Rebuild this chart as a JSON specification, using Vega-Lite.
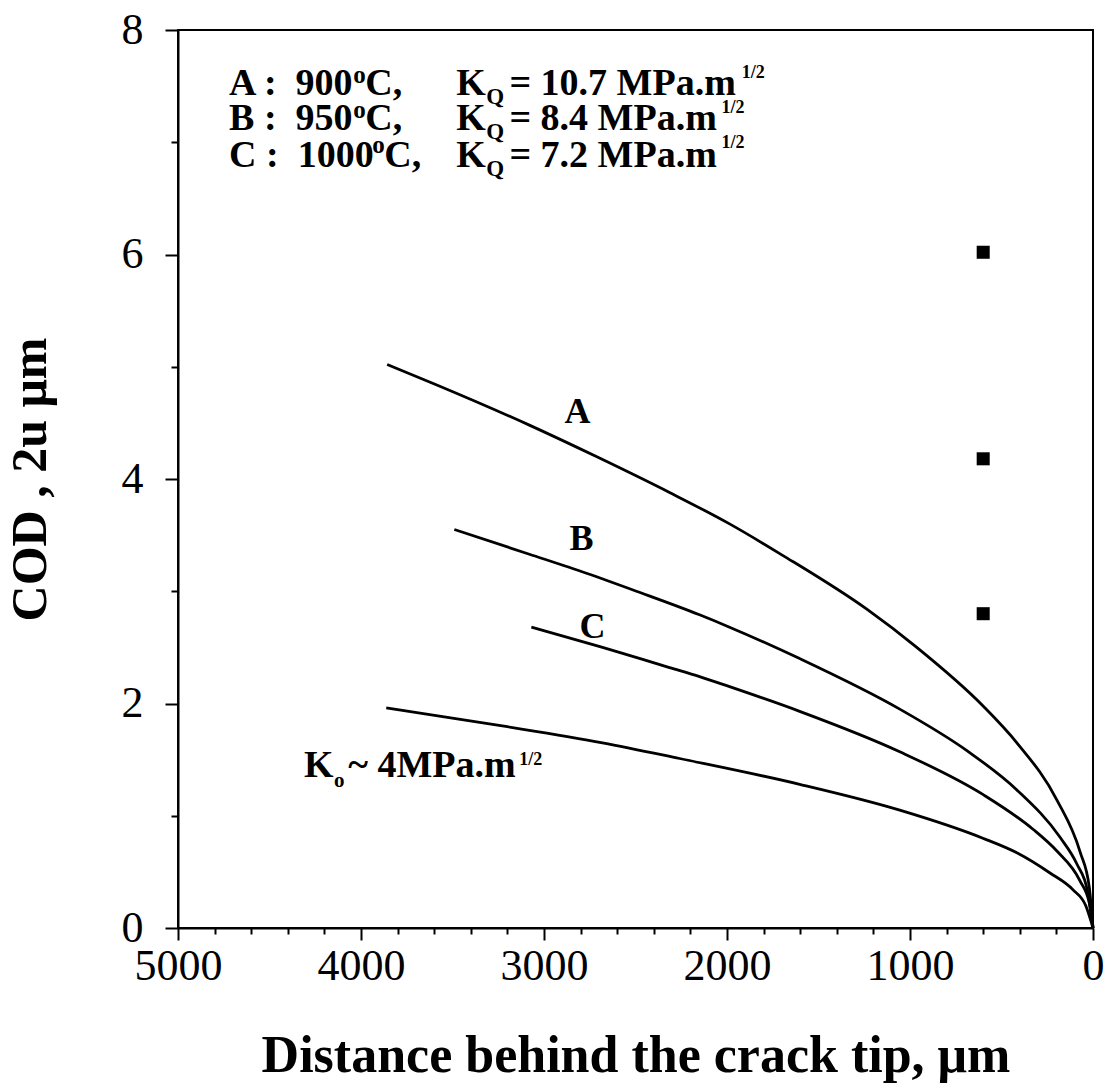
{
  "$schema": "https://vega.github.io/schema/vega-lite/v6.json",
  "width": 915,
  "height": 898,
  "autosize": "none",
  "padding": {"left": 178, "top": 30, "right": 18, "bottom": 160},
  "background": "white",
  "config": {
    "view": {"stroke": "black", "strokeWidth": 2},
    "axis": {
      "grid": false,
      "domainColor": "black",
      "domainWidth": 2,
      "tickColor": "black",
      "tickWidth": 2,
      "labelColor": "black",
      "labelFont": "Liberation Serif",
      "labelFontSize": 44,
      "labelFlush": false,
      "labelOverlap": false,
      "titleColor": "black",
      "titleFont": "Liberation Serif",
      "titleFontSize": 50,
      "titleFontWeight": "bold"
    },
    "text": {"font": "Liberation Serif", "fontWeight": "bold", "color": "black", "align": "left", "baseline": "alphabetic"}
  },
  "datasets": {
    "curves": [
      {"curve": "A", "distance": 3857, "cod": 5.02},
      {"curve": "A", "distance": 3589, "cod": 4.84},
      {"curve": "A", "distance": 3080, "cod": 4.48},
      {"curve": "A", "distance": 2714, "cod": 4.2},
      {"curve": "A", "distance": 2314, "cod": 3.88},
      {"curve": "A", "distance": 1986, "cod": 3.6},
      {"curve": "A", "distance": 1696, "cod": 3.32},
      {"curve": "A", "distance": 1236, "cod": 2.84},
      {"curve": "A", "distance": 963, "cod": 2.5},
      {"curve": "A", "distance": 602, "cod": 1.98},
      {"curve": "A", "distance": 416, "cod": 1.65},
      {"curve": "A", "distance": 197, "cod": 1.14},
      {"curve": "A", "distance": 71, "cod": 0.68},
      {"curve": "A", "distance": 20, "cod": 0.36},
      {"curve": "A", "distance": 0, "cod": 0},
      {"curve": "B", "distance": 3490, "cod": 3.55},
      {"curve": "B", "distance": 3080, "cod": 3.33},
      {"curve": "B", "distance": 2768, "cod": 3.16},
      {"curve": "B", "distance": 2495, "cod": 3.0},
      {"curve": "B", "distance": 2150, "cod": 2.79},
      {"curve": "B", "distance": 1986, "cod": 2.68},
      {"curve": "B", "distance": 1603, "cod": 2.4},
      {"curve": "B", "distance": 1056, "cod": 1.95},
      {"curve": "B", "distance": 689, "cod": 1.58},
      {"curve": "B", "distance": 416, "cod": 1.23},
      {"curve": "B", "distance": 181, "cod": 0.81},
      {"curve": "B", "distance": 88, "cod": 0.57},
      {"curve": "B", "distance": 30, "cod": 0.33},
      {"curve": "B", "distance": 0, "cod": 0},
      {"curve": "C", "distance": 3069, "cod": 2.68},
      {"curve": "C", "distance": 2680, "cod": 2.5},
      {"curve": "C", "distance": 2314, "cod": 2.32},
      {"curve": "C", "distance": 2150, "cod": 2.24},
      {"curve": "C", "distance": 1986, "cod": 2.15},
      {"curve": "C", "distance": 1603, "cod": 1.93},
      {"curve": "C", "distance": 1056, "cod": 1.57},
      {"curve": "C", "distance": 602, "cod": 1.19},
      {"curve": "C", "distance": 328, "cod": 0.88},
      {"curve": "C", "distance": 200, "cod": 0.69},
      {"curve": "C", "distance": 71, "cod": 0.42},
      {"curve": "C", "distance": 20, "cod": 0.22},
      {"curve": "C", "distance": 0, "cod": 0},
      {"curve": "K0", "distance": 3862, "cod": 1.96},
      {"curve": "K0", "distance": 3228, "cod": 1.8},
      {"curve": "K0", "distance": 2680, "cod": 1.65},
      {"curve": "K0", "distance": 2259, "cod": 1.51},
      {"curve": "K0", "distance": 1603, "cod": 1.28},
      {"curve": "K0", "distance": 1056, "cod": 1.05},
      {"curve": "K0", "distance": 602, "cod": 0.8},
      {"curve": "K0", "distance": 416, "cod": 0.67},
      {"curve": "K0", "distance": 235, "cod": 0.49},
      {"curve": "K0", "distance": 109, "cod": 0.34},
      {"curve": "K0", "distance": 40, "cod": 0.2},
      {"curve": "K0", "distance": 0, "cod": 0}
    ],
    "points": [
      {"distance": 600, "cod": 6.02},
      {"distance": 600, "cod": 4.18},
      {"distance": 600, "cod": 2.8}
    ],
    "notes": [
      {"role": "legend", "text": "A :\u00a0 900", "distance": 4721, "cod": 7.424},
      {"role": "deg", "text": "o", "distance": 4043, "cod": 7.531},
      {"role": "legend", "text": "C,", "distance": 3977, "cod": 7.424},
      {"role": "legend", "text": "K", "distance": 3479, "cod": 7.424},
      {"role": "sub", "text": "Q", "distance": 3315, "cod": 7.344},
      {"role": "legend", "text": "= 10.7 MPa.m", "distance": 3189, "cod": 7.424},
      {"role": "frac", "text": "1/2", "distance": 1920, "cod": 7.576},
      {"role": "legend", "text": "B :\u00a0 950", "distance": 4721, "cod": 7.112},
      {"role": "deg", "text": "o", "distance": 4043, "cod": 7.219},
      {"role": "legend", "text": "C,", "distance": 3977, "cod": 7.112},
      {"role": "legend", "text": "K", "distance": 3479, "cod": 7.112},
      {"role": "sub", "text": "Q", "distance": 3315, "cod": 7.032},
      {"role": "legend", "text": "= 8.4 MPa.m", "distance": 3189, "cod": 7.112},
      {"role": "frac", "text": "1/2", "distance": 2030, "cod": 7.264},
      {"role": "legend", "text": "C :\u00a0 1000", "distance": 4721, "cod": 6.783},
      {"role": "deg", "text": "o", "distance": 3939, "cod": 6.907},
      {"role": "legend", "text": "C,", "distance": 3873, "cod": 6.783},
      {"role": "legend", "text": "K", "distance": 3479, "cod": 6.783},
      {"role": "sub", "text": "Q", "distance": 3315, "cod": 6.703},
      {"role": "legend", "text": "= 7.2 MPa.m", "distance": 3189, "cod": 6.783},
      {"role": "frac", "text": "1/2", "distance": 2030, "cod": 6.952},
      {"role": "label", "text": "A", "distance": 2888, "cod": 4.5},
      {"role": "label", "text": "B", "distance": 2861, "cod": 3.37},
      {"role": "label", "text": "C", "distance": 2806, "cod": 2.585},
      {"role": "legend", "text": "K", "distance": 4311, "cod": 1.346},
      {"role": "sub0", "text": "o", "distance": 4147, "cod": 1.257},
      {"role": "legend", "text": "~ 4MPa.m", "distance": 4070, "cod": 1.346},
      {"role": "frac", "text": "1/2", "distance": 3135, "cod": 1.453}
    ]
  },
  "resolve": {"axis": {"x": "independent", "y": "independent"}},
  "layer": [
    {
      "data": {"name": "curves"},
      "mark": {"type": "line", "color": "black", "strokeWidth": 2.8, "interpolate": "monotone"},
      "encoding": {
        "x": {
          "field": "distance", "type": "quantitative",
          "scale": {"domain": [0, 5000], "reverse": true, "nice": false, "zero": false},
          "axis": {
            "orient": "bottom",
            "values": [0, 1000, 2000, 3000, 4000, 5000],
            "format": "d",
            "tickSize": 12,
            "labelPadding": 4,
            "title": "Distance behind the crack tip, μm",
            "titleFontSize": 52,
            "titlePadding": 42
          }
        },
        "y": {
          "field": "cod", "type": "quantitative",
          "scale": {"domain": [0, 8], "nice": false, "zero": false},
          "axis": {
            "orient": "left",
            "values": [0, 2, 4, 6, 8],
            "format": "d",
            "tickSize": 13,
            "labelPadding": 22,
            "title": "COD , 2u μm",
            "titlePadding": 66
          }
        },
        "detail": {"field": "curve"}
      }
    },
    {
      "data": {"name": "points"},
      "mark": {"type": "square", "color": "black", "filled": true, "opacity": 1, "size": 170},
      "encoding": {
        "x": {
          "field": "distance", "type": "quantitative",
          "axis": {
            "orient": "bottom",
            "values": [200, 400, 600, 800, 1200, 1400, 1600, 1800, 2200, 2400, 2600, 2800, 3200, 3400, 3600, 3800, 4200, 4400, 4600, 4800],
            "labels": false, "domain": false, "tickSize": 6, "title": null
          }
        },
        "y": {
          "field": "cod", "type": "quantitative",
          "axis": {
            "orient": "left",
            "values": [1, 3, 5, 7],
            "labels": false, "domain": false, "tickSize": 7, "title": null
          }
        }
      }
    },
    {
      "data": {"name": "notes"},
      "transform": [{"filter": "datum.role === 'legend'"}],
      "mark": {"type": "text", "fontSize": 38},
      "encoding": {
        "x": {"field": "distance", "type": "quantitative", "axis": null},
        "y": {"field": "cod", "type": "quantitative", "axis": null},
        "text": {"field": "text"}
      }
    },
    {
      "data": {"name": "notes"},
      "transform": [{"filter": "datum.role === 'label'"}],
      "mark": {"type": "text", "fontSize": 36},
      "encoding": {
        "x": {"field": "distance", "type": "quantitative", "axis": null},
        "y": {"field": "cod", "type": "quantitative", "axis": null},
        "text": {"field": "text"}
      }
    },
    {
      "data": {"name": "notes"},
      "transform": [{"filter": "datum.role === 'deg'"}],
      "mark": {"type": "text", "fontSize": 25},
      "encoding": {
        "x": {"field": "distance", "type": "quantitative", "axis": null},
        "y": {"field": "cod", "type": "quantitative", "axis": null},
        "text": {"field": "text"}
      }
    },
    {
      "data": {"name": "notes"},
      "transform": [{"filter": "datum.role === 'sub'"}],
      "mark": {"type": "text", "fontSize": 23},
      "encoding": {
        "x": {"field": "distance", "type": "quantitative", "axis": null},
        "y": {"field": "cod", "type": "quantitative", "axis": null},
        "text": {"field": "text"}
      }
    },
    {
      "data": {"name": "notes"},
      "transform": [{"filter": "datum.role === 'sub0'"}],
      "mark": {"type": "text", "fontSize": 21},
      "encoding": {
        "x": {"field": "distance", "type": "quantitative", "axis": null},
        "y": {"field": "cod", "type": "quantitative", "axis": null},
        "text": {"field": "text"}
      }
    },
    {
      "data": {"name": "notes"},
      "transform": [{"filter": "datum.role === 'frac'"}],
      "mark": {"type": "text", "fontSize": 18},
      "encoding": {
        "x": {"field": "distance", "type": "quantitative", "axis": null},
        "y": {"field": "cod", "type": "quantitative", "axis": null},
        "text": {"field": "text"}
      }
    }
  ]
}
